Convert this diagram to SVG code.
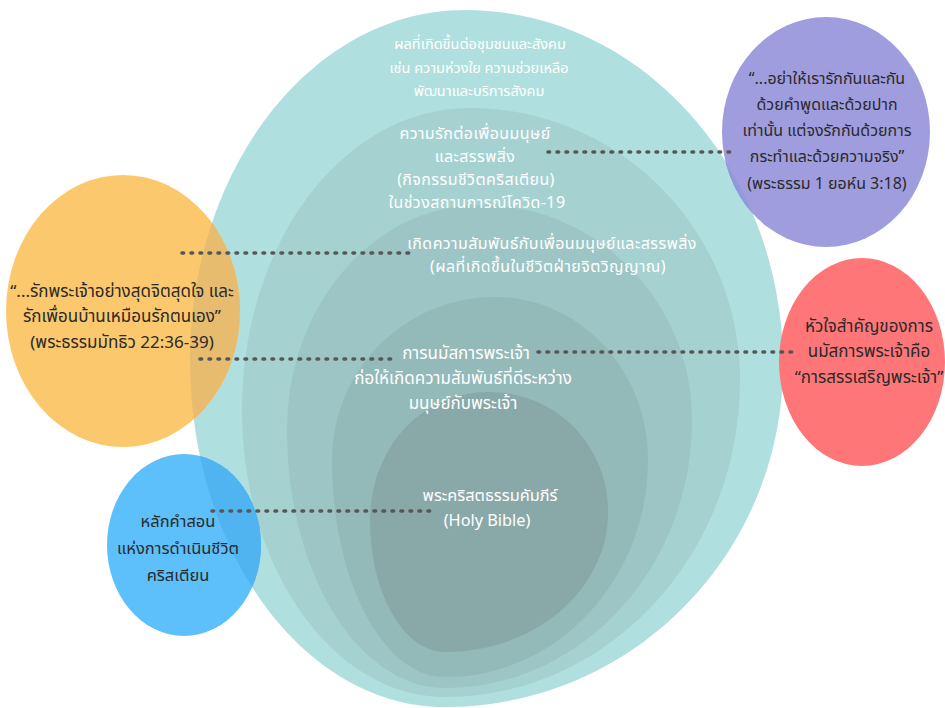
<svg xmlns="http://www.w3.org/2000/svg" width="945" height="708" viewBox="0 0 945 708">
<style>
text{font-family:"Noto Sans Thai","Noto Sans","DejaVu Sans",sans-serif;text-anchor:middle}
.w{fill:#ffffff;font-size:17px}
.w1{font-size:14.5px}
.w2{font-size:16px;letter-spacing:0.4px}
.w5{font-size:16.3px}
.d{fill:#2a2a2a;font-size:17px}
.p{font-size:16px}
.b{font-size:16.5px}
.dot{stroke:#575757;stroke-width:3.6;stroke-linecap:round;stroke-dasharray:1.6 7.4;fill:none}
</style>
<defs>
<path id="egg1" d="M465,10 C640.6,10 783,168.9 783,365 C783,553.9 631.7,707 445,707 C304.2,707 190,551.6 190,360 C190,166.7 313.1,10 465,10Z"/>
<clipPath id="eggClip"><use href="#egg1"/></clipPath>
</defs>
<rect width="945" height="708" fill="#ffffff"/>

<g id="layer-community">
<use href="#egg1" fill="#b0dfdf"/>
</g>
<g id="layer-love">
<path fill="#a6d1d1" d="M470,108 C619.1,108 740,229.8 740,380 C740,555.1 607.9,697 445,697 C332.9,697 242,568.5 242,410 C242,241.2 344.1,108 470,108Z"/>
</g>
<g id="layer-relationship">
<path fill="#9dc5c5" d="M480,205 C597.1,205 692,301.3 692,420 C692,568 581.4,688 445,688 C357.7,688 287,572.5 287,430 C287,305.7 373.4,205 480,205Z"/>
</g>
<g id="layer-worship">
<path fill="#94b9b9" d="M495,297 C579.5,297 648,370 648,460 C648,579.8 557.1,677 445,677 C382.6,677 332,579.8 332,460 C332,370 405,297 495,297Z"/>
</g>
<g id="layer-bible">
<path fill="#89a9a9" d="M488,392 C556,392 608,445 608,512 C608,590 534.5,652 445,652 C403.6,652 370,592.9 370,520 C370,450 420,392 488,392Z"/>
</g>

<g id="layer-community-label">
<text class="w w1" x="480" y="49">ผลที่เกิดขึ้นต่อชุมชนและสังคม</text>
<text class="w w1" x="479" y="73">เช่น ความห่วงใย ความช่วยเหลือ</text>
<text class="w w1" x="479" y="96">พัฒนาและบริการสังคม</text>
</g>
<g id="layer-love-label">
<text class="w w2" x="475" y="139">ความรักต่อเพื่อนมนุษย์</text>
<text class="w w2" x="475" y="162">และสรรพสิ่ง</text>
<text class="w w2" x="476" y="185">(กิจกรรมชีวิตคริสเตียน)</text>
<text class="w w2" x="477" y="208">ในช่วงสถานการณ์โควิด-19</text>
</g>
<g id="layer-relationship-label">
<text class="w w2" x="552" y="249">เกิดความสัมพันธ์กับเพื่อนมนุษย์และสรรพสิ่ง</text>
<text class="w w2" x="548" y="272">(ผลที่เกิดขึ้นในชีวิตฝ่ายจิตวิญญาณ)</text>
</g>
<g id="layer-worship-label">
<text class="w" x="466" y="359">การนมัสการพระเจ้า</text>
<text class="w" x="463" y="384">ก่อให้เกิดความสัมพันธ์ที่ดีระหว่าง</text>
<text class="w" x="463" y="409">มนุษย์กับพระเจ้า</text>
</g>
<g id="layer-bible-label">
<text class="w w5" x="490" y="501">พระคริสตธรรมคัมภีร์</text>
<text class="w w5" x="487" y="526">(Holy Bible)</text>
</g>

<g id="quote-john">
<ellipse cx="826" cy="132" rx="104" ry="115" fill="#a09ddf"/>
<ellipse cx="826" cy="132" rx="104" ry="115" fill="#8f9bd8" clip-path="url(#eggClip)"/>
<text class="d p" x="827" y="84">“...อย่าให้เรารักกันและกัน</text>
<text class="d p" x="827" y="110">ด้วยคำพูดและด้วยปาก</text>
<text class="d p" x="827" y="136">เท่านั้น แต่จงรักกันด้วยการ</text>
<text class="d p" x="827" y="162">กระทำและด้วยความจริง”</text>
<text class="d p" x="827" y="189">(พระธรรม 1 ยอห์น 3:18)</text>
</g>
<g id="quote-matthew">
<ellipse cx="123" cy="311" rx="117" ry="136" fill="#fcc86d"/>
<ellipse cx="123" cy="311" rx="117" ry="136" fill="#e8bc6e" clip-path="url(#eggClip)"/>
<text class="d" x="122" y="297">“...รักพระเจ้าอย่างสุดจิตสุดใจ และ</text>
<text class="d" x="122" y="322">รักเพื่อนบ้านเหมือนรักตนเอง”</text>
<text class="d" x="122" y="348">(พระธรรมมัทธิว 22:36-39)</text>
</g>
<g id="heart-worship">
<ellipse cx="862" cy="362" rx="83" ry="104" fill="#ff7678"/>
<text class="d" x="869" y="332">หัวใจสำคัญของการ</text>
<text class="d" x="869" y="357">นมัสการพระเจ้าคือ</text>
<text class="d" x="869" y="383">“การสรรเสริญพระเจ้า”</text>
</g>
<g id="teaching">
<ellipse cx="184" cy="545" rx="77" ry="91" fill="#5ec0fb"/>
<ellipse cx="184" cy="545" rx="77" ry="91" fill="#4fb4ef" clip-path="url(#eggClip)"/>
<text class="d b" x="178" y="527">หลักคำสอน</text>
<text class="d b" x="178" y="554">แห่งการดำเนินชีวิต</text>
<text class="d b" x="178" y="581">คริสเตียน</text>
</g>

<g id="connectors">
<line class="dot" x1="548" y1="152" x2="735" y2="152"/>
<line class="dot" x1="182" y1="253" x2="412" y2="253"/>
<line class="dot" x1="200" y1="359" x2="394" y2="359"/>
<line class="dot" x1="538" y1="352" x2="796" y2="352"/>
<line class="dot" x1="212" y1="511" x2="437" y2="511"/>
</g>
</svg>
